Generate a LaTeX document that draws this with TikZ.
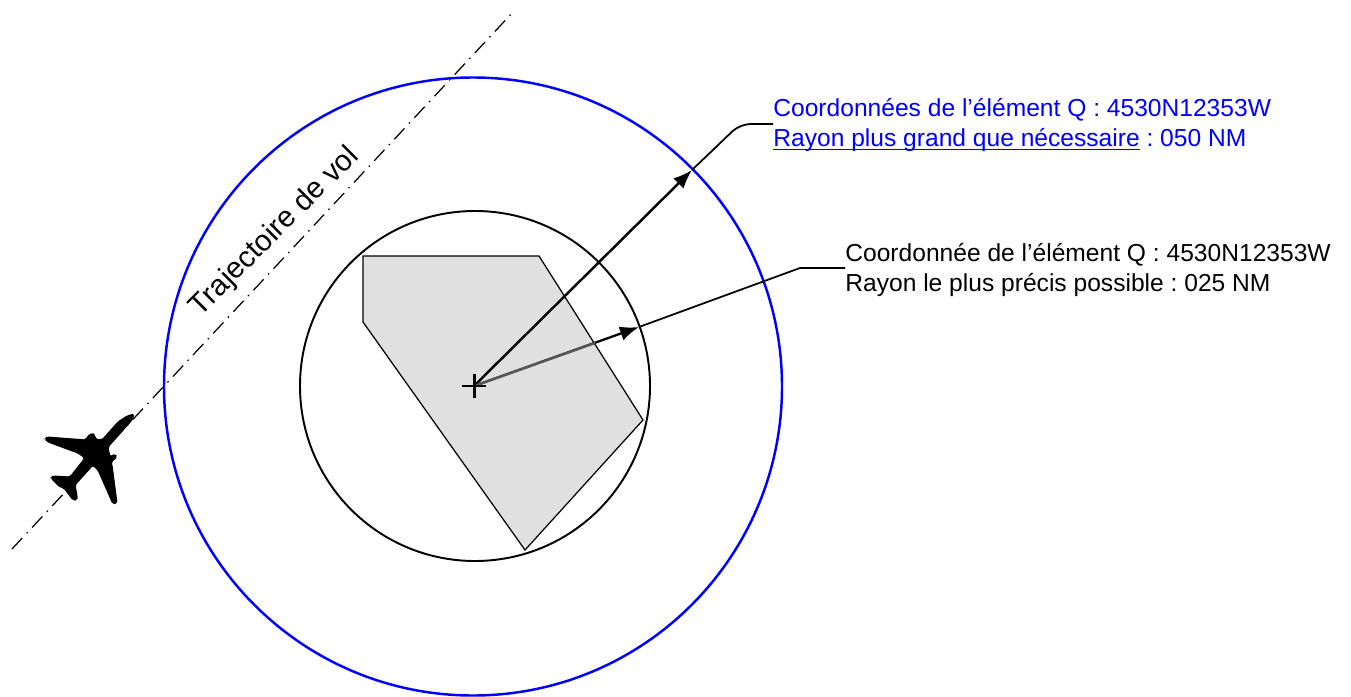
\documentclass[tikz,border=0pt]{standalone}
\usepackage{fontspec}
\setmainfont{Liberation Sans}
\usetikzlibrary{arrows.meta}
\definecolor{zonegray}{RGB}{224,224,224}
\newcommand{\lowline}[1]{\setbox0\hbox{#1}\rlap{\rule[-2.3pt]{\wd0}{0.7pt}}\box0{}}
\tikzset{
  leader/.style={line width=1pt, rounded corners=6pt},
  tiparrow/.style={-{Latex[length=3.8mm,width=2.9mm]}},
  callout/.style={anchor=west, inner sep=0pt, font=\frenchspacing\fontsize{14}{17}\selectfont, align=left},
  track/.style={line width=0.7pt, dash pattern=on 3mm off 1.3mm on 0.3mm off 1.3mm}
}
\begin{document}
\begin{tikzpicture}[x=0.02cm, y=-0.02cm]
  \useasboundingbox (0,0) rectangle (1351,696);
  % Points of the drawing
  \coordinate (centre) at (474,386);
  \coordinate (centreInner) at (475,386);
  \coordinate (centreOuter) at (473,386.5);
  \coordinate (trackA) at (12,549);
  \coordinate (trackB) at (514,11);
  \coordinate (tipOuter) at (692,170);
  \coordinate (tipInner) at (639,327);
  \coordinate (kneeInner) at (800,268);
  \coordinate (kneeOuter) at (740,124);
  \coordinate (greyEnd) at (595,343);

  % Flight path
  \draw[track] (trackA) -- (trackB);
  \node[rotate=45, font=\fontsize{16.8}{17}\selectfont, inner sep=0pt] (trackLabel) at (275,232) {Trajectoire de vol};

  % Zone
  \fill[zonegray, draw=black, line width=0.7pt] (363,256) -- (539,256) -- (643,420) -- (525,550) -- (363,322) -- cycle;

  % Circles
  \draw[blue, line width=1.4pt] (centreOuter) circle (309);
  \draw[black, line width=1.1pt] (centreInner) circle (175);

  % Texts
  \node[callout, text=blue] (outerText) at (773,125) {Coordonnées de l’élément Q : 4530N12353W\\\lowline{Rayon plus grand que nécessaire} : 050 NM};
  \node[callout] (innerText) at (845,270) {Coordonnée de l’élément Q : 4530N12353W\\Rayon le plus précis possible : 025 NM};

  % Leaders
  \draw[leader] (outerText.west |- kneeOuter) -- (kneeOuter) -- (tipOuter);
  \draw[leader, rounded corners=0pt] (innerText.west |- kneeInner) -- (kneeInner) -- (tipInner);
  \draw[tiparrow, line width=1.4pt] (centre) -- (tipOuter);
  \draw[tiparrow, line width=1.3pt] (centre) -- (tipInner);
  \draw[gray!70!black, line width=1.3pt] (centre) -- (greyEnd);

  % Centre mark
  \draw[line width=1.7pt] ([xshift=-7]centre) -- ([xshift=7]centre) ([yshift=-7]centre) -- ([yshift=7]centre);

  % Aircraft
  \filldraw[black, line width=0.6pt, rounded corners=1pt] (134,414) -- (127,416) -- (118,422) -- (102,440)
    -- (95,439) -- (95,435) -- (92,433) -- (87,437) -- (86,440) -- (47,437) -- (45,439) -- (48,442) -- (78,453) -- (85,458)
    -- (70,477) -- (53,476) -- (51,478) -- (60,487) -- (64,488) -- (73,500) -- (77,500) -- (77,495) -- (75,485) -- (93,465)
    -- (98,470) -- (113,504) -- (117,503) -- (112,465) -- (111,462) -- (117,457) -- (115,454) -- (110,457) -- (108,447) -- (132,420) -- cycle;
\end{tikzpicture}
\end{document}
